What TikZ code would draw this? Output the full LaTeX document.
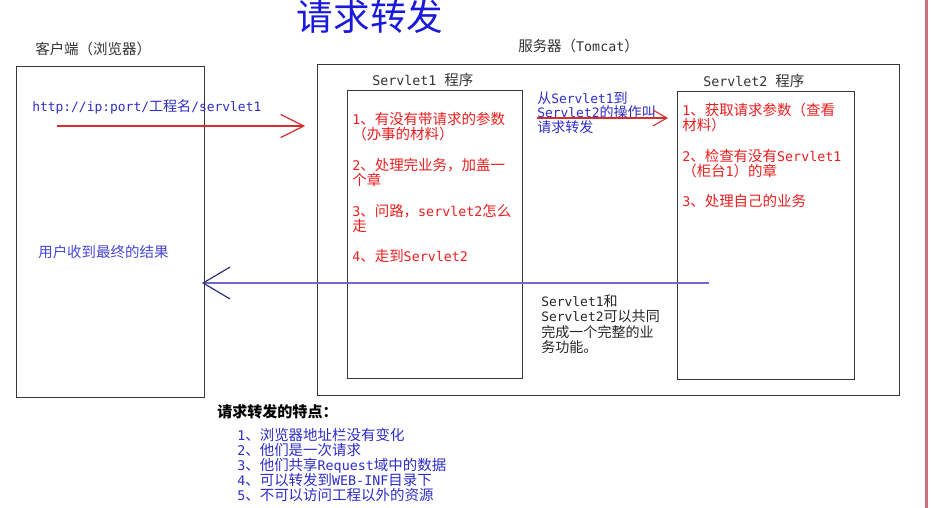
\documentclass[tikz,border=0pt]{standalone}
\usepackage{fontspec}
\setmainfont{Noto Sans CJK SC}
\newfontfamily\latfont{DejaVu Sans Mono}[Scale=0.92]
\usetikzlibrary{fit,arrows.meta}

% latin runs in the mono face
\newcommand\mono[1]{{\latfont#1}}

\definecolor{titleblue}{RGB}{25,25,220}
\definecolor{txtblue}{RGB}{45,45,200}
\definecolor{lightblue}{RGB}{70,70,215}
\definecolor{txtred}{RGB}{235,30,30}
\definecolor{arrred}{RGB}{215,45,45}
\definecolor{backblue}{RGB}{115,105,205}
\definecolor{headnavy}{RGB}{40,40,120}
\definecolor{edgered}{RGB}{200,115,125}
\definecolor{framegray}{RGB}{55,55,55}

\tikzset{
boxframe/.style={draw=framegray,line width=0.7pt,inner sep=0pt},
titletxt/.style={font=\fontsize{26}{30}\selectfont,text=titleblue,inner sep=0pt},
line/.style={anchor=west,inner sep=0pt,text height=0.74em,text depth=0.1em},
head/.style={line,font=\fontsize{10.3}{12}\selectfont,text=black!80},
redtxt/.style={line,font=\fontsize{10.3}{12}\selectfont,text=txtred},
bluetxt/.style={line,font=\fontsize{10}{12}\selectfont,text=txtblue},
blacktxt/.style={line,font=\fontsize{10}{12}\selectfont,text=black!85},
listtxt/.style={line,font=\fontsize{10.3}{12}\selectfont,text=txtblue},
reqarrow/.style={arrred,line width=0.8pt,-{Straight Barb[length=5.75mm,width=5.75mm]}},
fwdarrow/.style={arrred,line width=0.8pt,-{Straight Barb[length=3.5mm,width=4mm]}},
backarrow/.style={backblue,line width=0.8pt,-{Straight Barb[length=6.75mm,width=8mm,color=headnavy]}}
}

\begin{document}
\begin{tikzpicture}[x=0.25mm,y=-0.25mm]
\useasboundingbox (0,0) rectangle (932,508);
\draw[edgered,line width=1.8pt] (926.5,0) -- (926.5,508);

\node[titletxt] (title) at (370,17) {请求转发};

% the boxes
\node[boxframe,fit={(16,66) (204,397)}] (client) {};
\node[boxframe,fit={(317,64) (899,395)}] (server) {};
\node[boxframe,fit={(347,90) (522,378)}] (sone) {};
\node[boxframe,fit={(677,91) (854,379)}] (stwo) {};

\node[head] (clientlbl) at (35,50) {客户端（浏览器）};
\node[head] (serverlbl) at (518,47) {服务器（\mono{Tomcat}）};
\node[head] (sonelbl) at (372,81) {\mono{Servlet1 }程序};
\node[head] (stwolbl) at (703,82) {\mono{Servlet2 }程序};

\node[bluetxt] (url) at (32,107) {\mono{http://ip:port/}工程名\mono{/servlet1}};
\node[listtxt,text=lightblue] (result) at (38,253) {用户收到最终的结果};

% servlet1 steps
\foreach \y/\txt [count=\i] in {120/{\mono{1}、有没有带请求的参数},135/{（办事的材料）},
  166/{\mono{2}、处理完业务，加盖一},181/{个章},212/{\mono{3}、问路，\mono{servlet2}怎么},227/{走},
  257/{\mono{4}、走到\mono{Servlet2}}}
  \node[redtxt] (sone\i) at (352,\y) {\txt};

% servlet2 steps
\foreach \y/\txt [count=\i] in {111/{\mono{1}、获取请求参数（查看},126/{材料）},
  157/{\mono{2}、检查有没有\mono{Servlet1}},172/{（柜台\mono{1}）的章},202/{\mono{3}、处理自己的业务}}
  \node[redtxt] (stwo\i) at (682,\y) {\txt};

\foreach \y/\txt [count=\i] in {99/{从\mono{Servlet1}到},113/{\mono{Servlet2}的操作叫},128/{请求转发}}
  \node[bluetxt] (fwd\i) at (537,\y) {\txt};

\foreach \y/\txt [count=\i] in {302/{\mono{Servlet1}和},317/{\mono{Servlet2}可以共同},
  333/{完成一个完整的业},348/{务功能。}}
  \node[blacktxt] (both\i) at (541,\y) {\txt};

% features
\node[head,font=\fontsize{10.7}{12}\selectfont\bfseries,text=black] (feat) at (217,413) {请求转发的特点：};
\foreach \y/\txt [count=\i] in {436/{\mono{1}、浏览器地址栏没有变化},451/{\mono{2}、他们是一次请求},
  466/{\mono{3}、他们共享\mono{Request}域中的数据},481/{\mono{4}、可以转发到\mono{WEB-INF}目录下},
  496/{\mono{5}、不可以访问工程以外的资源}}
  \node[listtxt] (feat\i) at (237,\y) {\txt};

% arrows
\coordinate (reqfrom) at (57,126);
\coordinate (reqto) at (305,126);
\coordinate (fwdfrom) at (537,118);
\coordinate (fwdto) at (668,118);
\coordinate (backfrom) at (709,283);
\coordinate (backto) at (202,283);
\draw[reqarrow] (reqfrom) -- (reqto);
\draw[fwdarrow] (fwdfrom) -- (fwdto);
\draw[backarrow] (backfrom) -- (backto);
\end{tikzpicture}
\end{document}
